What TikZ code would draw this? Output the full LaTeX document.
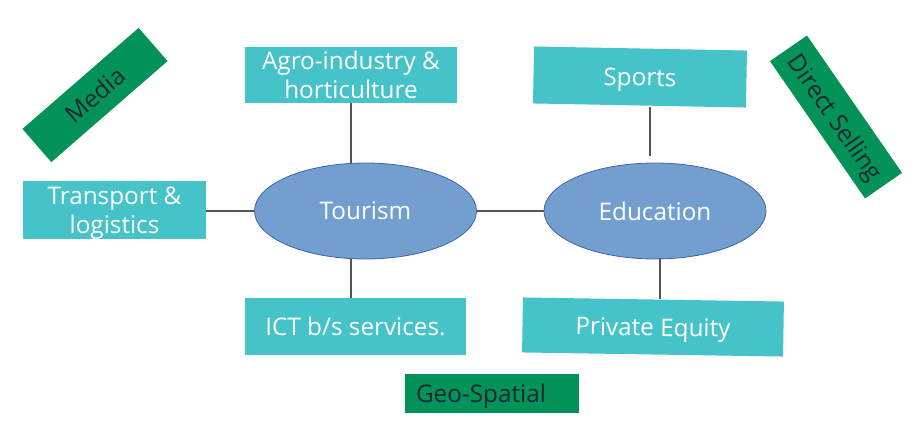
\documentclass[tikz,border=0pt]{standalone}
\usepackage{fontspec}
\setmainfont{Open Sans}
\usetikzlibrary{shapes.geometric,calc}
\definecolor{boxcyan}{RGB}{69,195,201}
\definecolor{boxgreen}{RGB}{3,146,88}
\definecolor{ellfill}{RGB}{114,159,207}
\definecolor{elldraw}{RGB}{62,100,165}
\definecolor{darktext}{RGB}{30,40,50}
\definecolor{linegray}{RGB}{85,85,85}
\tikzset{
  txt/.style={font=\fontsize{24.3}{29}\selectfont, text depth=0pt},
  cyanbox/.style={rectangle, fill=boxcyan, inner sep=0pt, text=white, align=center, txt},
  greenbox/.style={rectangle, fill=boxgreen, inner sep=0pt, text=darktext, align=center, txt},
  hub/.style={ellipse, fill=ellfill, draw=elldraw, line width=0.8pt, inner sep=0pt,
    minimum width=222pt, minimum height=96pt, text=white, txt},
  link/.style={draw=linegray, line width=1.4pt}
}
\begin{document}
\begin{tikzpicture}[x=1pt,y=1pt]
\useasboundingbox (0,0) rectangle (921,-433);
% hubs
\node[hub] (tourism) at (365.5,-211) {Tourism};
\node[hub] (education) at (655,-211) {Education};
% cyan boxes
\node[cyanbox, minimum width=212pt, minimum height=56pt] (agro) at (351,-75) {Agro-industry \&\\horticulture};
\node[cyanbox, minimum width=183pt, minimum height=58pt] (transport) at (114.5,-210) {Transport \&\\logistics};
\node[cyanbox, minimum width=221pt, minimum height=57pt] (ict) at (355.5,-326.5) {ICT b/s services.};
\node[cyanbox, minimum width=213pt, minimum height=57pt, rotate=-1.1] (sports) at (640,-77) {Sports};
\node[cyanbox, minimum width=261pt, minimum height=55pt, rotate=-0.9] (pe) at (653,-327) {Private Equity};
% green boxes
\node[greenbox, minimum width=154pt, minimum height=44pt, rotate=41] (media) at (95,-95) {Media};
\node[greenbox, minimum width=167pt, minimum height=45pt, rotate=-55.3] (direct) at (836,-117) {Direct Selling};
\node[greenbox, minimum width=174pt, minimum height=39pt, text width=152pt, align=left] (geo) at (492,-393.5) {Geo-Spatial};
% connectors
\draw[link] (agro.south) -- (agro.south |- tourism.north);
\draw[link] (transport.east |- tourism.west) -- (tourism.west);
\draw[link] (tourism.east) -- (education.west);
\draw[link] (agro.south |- tourism.south) -- (agro.south |- ict.north);
\coordinate (sp1) at (650,-107);
\coordinate (sp2) at (650,-156);
\draw[link] (sp1) -- (sp2);
\coordinate (ed1) at (660,-258);
\coordinate (pe1) at (660,-298.5);
\draw[link] (ed1) -- (pe1);
\end{tikzpicture}
\end{document}
